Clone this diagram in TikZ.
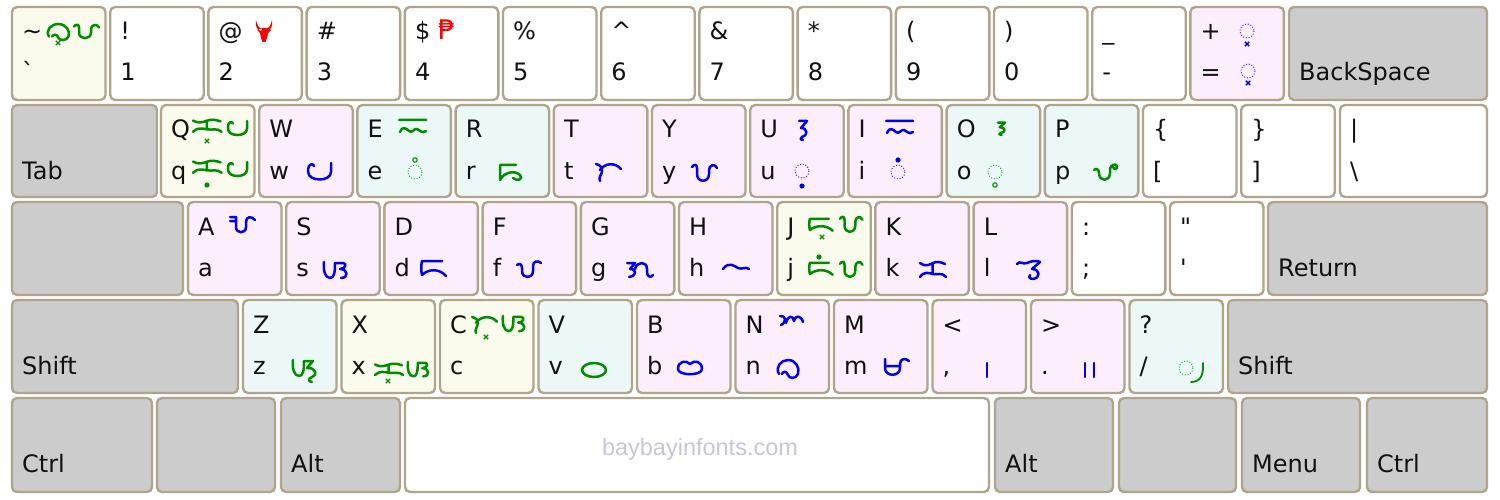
\documentclass[tikz,border=0pt]{standalone}
\usepackage{fontspec}
\setmainfont{DejaVu Sans}
\newfontfamily\keyfont{DejaVu Sans}
\newfontfamily\wmfont{Liberation Sans}
\usetikzlibrary{calc}
\definecolor{kborder}{RGB}{178,164,138}
\definecolor{kgray}{RGB}{204,204,204}
\definecolor{kpink}{RGB}{252,238,252}
\definecolor{kcyan}{RGB}{236,248,248}
\definecolor{kcream}{RGB}{250,250,237}
\definecolor{gg}{RGB}{0,140,0}
\definecolor{gb}{RGB}{0,0,235}
\definecolor{gr}{RGB}{255,0,0}
\definecolor{wm}{RGB}{200,196,222}
\definecolor{ktext}{RGB}{17,17,17}
\tikzset{
 keybox/.style={draw=kborder, line width=2.4pt, rounded corners=5pt, anchor=north west, inner sep=0pt, outer sep=0pt},
 lab/.style={anchor=base west, inner sep=0pt, text=ktext, font=\keyfont\fontsize{24}{27}\selectfont},
 gl/.style={line width=2.5pt, line cap=round, line join=round},
 pics/gya/.style={code={\draw[gl,#1] (0,3) .. controls (2,0) and (5,0) .. (5,4) -- (5,10) .. controls (5,19) and (17,19) .. (17,10) -- (17,6) .. controls (17,1) and (23,-1) .. (25,4);}},
 pics/gwa/.style={code={\draw[gl,#1] (6,3) .. controls (5,0) and (1,1) .. (1,6) -- (1,9) .. controls (1,19) and (20,19) .. (20,9) -- (20,0);}},
 pics/gna/.style={code={\draw[gl,#1] (4,14) .. controls (0,7) and (6,0) .. (13,0) .. controls (21,0) and (25,8) .. (23,14) .. controls (21,19) and (14,19) .. (13,15) .. controls (12,11) and (8,11) .. (7,14);}},
 pics/gka/.style={code={\draw[gl,#1] (0,2) .. controls (5,6) and (9,4) .. (13,2) .. controls (17,0) and (21,1) .. (25,3) (12.5,3) -- (12.5,12) (0,16) .. controls (4,10) and (9,12) .. (13,13) .. controls (18,14) and (22,11) .. (26,16);}},
 pics/gta/.style={code={\draw[gl,#1] (4,7) .. controls (9,0) and (19,-1) .. (25,6) (0,1) .. controls (4,2) and (6,4) .. (6,8) .. controls (6,12) and (2,14) .. (4,18);}},
 pics/gda/.style={code={\draw[gl,#1] (22,1) -- (2,1) .. controls (1,5) and (1,11) .. (2,15) .. controls (8,9) and (19,8) .. (26,16);}},
 pics/gra/.style={code={\draw[gl,#1] (18,1) -- (2,1) -- (2,16) .. controls (6,8) and (17,6) .. (22,11) .. controls (26,15) and (19,18) .. (15,14);}},
 pics/gsa/.style={code={\draw[gl,#1] (1,1) .. controls (0,9) and (2,17) .. (7,17) .. controls (11,17) and (12,12) .. (12,2) -- (20,2) .. controls (24,2) and (23,8) .. (17,8) .. controls (25,8) and (26,17) .. (18,17);}},
 pics/gza/.style={code={\draw[gl,#1] (1,1) .. controls (0,9) and (2,17) .. (7,17) .. controls (11,17) and (12,12) .. (12,2) -- (21,2) -- (15,9) .. controls (24,8) and (26,17) .. (20,18) .. controls (16,19) and (16,23) .. (20,23);}},
 pics/gga/.style={code={\draw[gl,#1] (0,2) -- (8,2) -- (3,8) .. controls (10,8) and (10,15) .. (2,16) (8,8) .. controls (10,0) and (20,0) .. (20,8) -- (20,11) .. controls (20,16) and (24,17) .. (26,14);}},
 pics/gha/.style={code={\draw[gl,#1] (0,6) .. controls (6,-2) and (11,3) .. (15,5) .. controls (19,7) and (23,3) .. (26,6);}},
 pics/gla/.style={code={\draw[gl,#1] (0,4) .. controls (3,0) and (6,5) .. (10,3) .. controls (14,1) and (20,0) .. (23,2) -- (15,9) .. controls (23,9) and (24,18) .. (16,19) .. controls (12,19) and (11,16) .. (13,15);}},
 pics/gma/.style={code={\draw[gl,#1] (2,1) -- (2,10) .. controls (2,19) and (17,19) .. (17,10) -- (17,6) .. controls (17,0) and (23,0) .. (26,3) (2,8) -- (17,8);}},
 pics/gba/.style={code={\draw[gl,#1] (13,4) .. controls (9,0) and (1,1) .. (1,9) .. controls (1,16) and (25,16) .. (25,9) .. controls (25,1) and (17,0) .. (13,4) -- cycle;}},
 pics/gnga/.style={code={\draw[gl,#1] (1,1) .. controls (7,0) and (8,7) .. (2,10) (7,8) .. controls (9,0) and (14,0) .. (15,6) .. controls (16,0) and (22,0) .. (24,7);}},
 pics/gaa/.style={code={\draw[gl,#1] (0,1) -- (6,1) (0,5) -- (6,5) (6,1) -- (6,11) .. controls (6,18) and (16,18) .. (16,11) -- (16,6) .. controls (16,0) and (22,0) .. (25,4);}},
 pics/gpa/.style={code={\draw[gl,#1] (0,7) .. controls (2,5) and (5,6) .. (5,10) .. controls (5,19) and (16,19) .. (16,10) -- (16,6) .. controls (16,2) and (22,0) .. (23,3) .. controls (24,6) and (20,7) .. (19,4);}},
 pics/gfa/.style={code={\draw[gl,#1] (0,5) .. controls (2,3) and (5,4) .. (5,8) -- (5,11) .. controls (5,19) and (16,19) .. (16,11) -- (16,6) .. controls (16,1) and (21,0) .. (24,3);}},
 pics/guu/.style={code={\draw[gl,#1] (1,1) -- (9,1) -- (3,8) .. controls (10,8) and (10,16) .. (4,17) .. controls (2,17.5) and (2,20) .. (5,20);}},
 pics/gii/.style={code={\draw[gl,#1] (0,0) -- (27,0) (1,12) .. controls (3,6) and (7,8) .. (10,11) .. controls (13,14) and (15,8) .. (18,9) .. controls (21,10) and (23,14) .. (27,11);}},
 pics/dcirc/.style={code={\draw[#1, line width=0.9pt, dash pattern=on 0.9pt off 1.9pt] (0,0) circle[radius=7];}},
 pics/vcross/.style={code={\draw[#1, line width=1.4pt] (-2.2,-2.2) -- (2.2,2.2) (-2.2,2.2) -- (2.2,-2.2);}},
 pics/kdot/.style={code={\fill[#1] (0,0) circle[radius=2.6];}},
 pics/kring/.style={code={\draw[#1, line width=1.1pt] (0,0) circle[radius=2.2];}},
 pics/carabao/.style={code={\fill[#1] (1,0) .. controls (0,6) and (2,10) .. (6,11) -- (7,9) .. controls (4,8) and (2,5) .. (1,0) -- cycle (17,0) .. controls (18,6) and (16,10) .. (12,11) -- (11,9) .. controls (14,8) and (16,5) .. (17,0) -- cycle (5,9) .. controls (7,7.5) and (11,7.5) .. (13,9) -- (16,10) -- (13,13) -- (12,18) -- (10.5,22) -- (7.5,22) -- (6,18) -- (5,13) -- (2,10) -- cycle;}}
}
% name, x, top, width, height, fill, upper, lower
\newcommand\kkey[8]{%
  \node[keybox, fill=#6, minimum width=#4pt, minimum height=#5pt] (#1) at (#2,#3) {};
  \node[lab] (#1u) at ($(#2,#3)+(10,33)$) {#7};
  \node[lab] (#1l) at ($(#2,#3)+(10,74)$) {#8};}
\begin{document}
\begin{tikzpicture}[x=1pt,y=-1pt]
\useasboundingbox[fill=white] (0,0) rectangle (1500,500);
% row 1
\kkey{kgrave}{12}{7}{93.5}{93}{kcream}{\textasciitilde}{\symbol{96}}
\kkey{kone}{110.2}{7}{93.5}{93}{white}{!}{1}
\kkey{ktwo}{208.4}{7}{93.5}{93}{white}{@}{2}
\kkey{kthree}{306.6}{7}{93.5}{93}{white}{\#}{3}
\kkey{kfour}{404.8}{7}{93.5}{93}{white}{\$}{4}
\kkey{kfive}{503}{7}{93.5}{93}{white}{\%}{5}
\kkey{ksix}{601.2}{7}{93.5}{93}{white}{\textasciicircum}{6}
\kkey{kseven}{699.4}{7}{93.5}{93}{white}{\&}{7}
\kkey{keight}{797.6}{7}{93.5}{93}{white}{*}{8}
\kkey{knine}{895.8}{7}{93.5}{93}{white}{(}{9}
\kkey{kzero}{994}{7}{93.5}{93}{white}{)}{0}
\kkey{kminus}{1092.2}{7}{93.5}{93}{white}{\_}{-}
\kkey{kequal}{1190.4}{7}{93.5}{93}{kpink}{+}{=}
\kkey{kbs}{1289}{7}{198}{93}{kgray}{}{BackSpace}
% row 2
\kkey{ktab}{12}{105}{145}{92}{kgray}{}{Tab}
\kkey{kq}{161}{105}{93.5}{92}{kcream}{Q}{q}
\kkey{kw}{259.2}{105}{93.5}{92}{kpink}{W}{w}
\kkey{ke}{357.4}{105}{93.5}{92}{kcyan}{E}{e}
\kkey{kr}{455.6}{105}{93.5}{92}{kcyan}{R}{r}
\kkey{kt}{553.8}{105}{93.5}{92}{kpink}{T}{t}
\kkey{ky}{652}{105}{93.5}{92}{kpink}{Y}{y}
\kkey{ku}{750.2}{105}{93.5}{92}{kpink}{U}{u}
\kkey{ki}{848.4}{105}{93.5}{92}{kpink}{I}{i}
\kkey{ko}{946.6}{105}{93.5}{92}{kcyan}{O}{o}
\kkey{kp}{1044.8}{105}{93.5}{92}{kcyan}{P}{p}
\kkey{klb}{1143}{105}{93.5}{92}{white}{\{}{[}
\kkey{krb}{1241.2}{105}{93.5}{92}{white}{\}}{]}
\kkey{kbsl}{1340}{105}{147}{92}{white}{|}{\textbackslash}
% row 3
\kkey{kcaps}{12}{202}{171}{93}{kgray}{}{}
\kkey{ka}{188}{202}{93.5}{93}{kpink}{A}{a}
\kkey{ks}{286.2}{202}{93.5}{93}{kpink}{S}{s}
\kkey{kd}{384.4}{202}{93.5}{93}{kpink}{D}{d}
\kkey{kf}{482.6}{202}{93.5}{93}{kpink}{F}{f}
\kkey{kg}{580.8}{202}{93.5}{93}{kpink}{G}{g}
\kkey{kh}{679}{202}{93.5}{93}{kpink}{H}{h}
\kkey{kj}{777.2}{202}{93.5}{93}{kcream}{J}{j}
\kkey{kk}{875.4}{202}{93.5}{93}{kpink}{K}{k}
\kkey{kl}{973.6}{202}{93.5}{93}{kpink}{L}{l}
\kkey{ksc}{1071.8}{202}{93.5}{93}{white}{:}{;}
\kkey{kqt}{1170}{202}{93.5}{93}{white}{\symbol{34}}{\symbol{39}}
\kkey{kret}{1268}{202}{219}{93}{kgray}{}{Return}
% row 4
\kkey{klsh}{12}{300}{226}{93}{kgray}{}{Shift}
\kkey{kz}{243}{300}{93.5}{93}{kcyan}{Z}{z}
\kkey{kx}{341.5}{300}{93.5}{93}{kcream}{X}{x}
\kkey{kc}{440}{300}{93.5}{93}{kcream}{C}{c}
\kkey{kv}{538.5}{300}{93.5}{93}{kcyan}{V}{v}
\kkey{kb}{637}{300}{93.5}{93}{kpink}{B}{b}
\kkey{kn}{735.5}{300}{93.5}{93}{kpink}{N}{n}
\kkey{km}{834}{300}{93.5}{93}{kpink}{M}{m}
\kkey{kcomma}{932.5}{300}{93.5}{93}{kpink}{<}{,}
\kkey{kdot}{1031}{300}{93.5}{93}{kpink}{>}{.}
\kkey{kslash}{1129.5}{300}{93.5}{93}{kcyan}{?}{/}
\kkey{krsh}{1228}{300}{259}{93}{kgray}{}{Shift}
% row 5
\kkey{klctrl}{12}{398}{140}{94}{kgray}{}{Ctrl}
\kkey{klwin}{157}{398}{118}{94}{kgray}{}{}
\kkey{klalt}{281}{398}{119}{94}{kgray}{}{Alt}
\kkey{kspace}{405}{398}{584}{94}{white}{}{}
\kkey{kralt}{995}{398}{118}{94}{kgray}{}{Alt}
\kkey{krwin}{1119}{398}{117}{94}{kgray}{}{}
\kkey{kmenu}{1242}{398}{118}{94}{kgray}{}{Menu}
\kkey{krctrl}{1367}{398}{120}{94}{kgray}{}{Ctrl}
\node[font=\wmfont\fontsize{23.5}{26}\selectfont, text=wm, anchor=base, inner sep=0pt] (wmark) at (700,455) {baybayinfonts.com};
% glyphs row 1
\pic[xscale=1.02,yscale=.9] at (45,24) {gna=gg};
\pic at (58,43) {vcross=gg};
\pic[yscale=.85] at (74,24) {gya=gg};
\pic at (255,20) {carabao=gr};
\node[anchor=base west, inner sep=0pt, text=gr, font=\keyfont\fontsize{27}{30}\selectfont] (peso) at (438,40) {₱};
\pic at (1247,31) {dcirc=gb};
\pic at (1247,44) {vcross=gb};
\pic at (1248,71) {dcirc=gb};
\pic at (1248,83) {vcross=gb};
% row 2
\pic[xscale=1.1,yscale=.8] at (193,119) {gka=gg};
\pic at (207,141) {vcross=gg};
\pic[yscale=.85] at (227,121) {gwa=gg};
\pic[xscale=1.1,yscale=.8] at (193,160) {gka=gg};
\pic at (207,185) {kdot=gg};
\pic[yscale=.85] at (227,162) {gwa=gg};
\pic[xscale=1.2] at (307,163) {gwa=gb};
\pic at (399,120) {gii=gg};
\pic at (415,172) {dcirc=gg};
\pic at (415,160) {kring=gg};
\pic at (498,164) {gra=gg};
\pic at (596,163) {gta=gb};
\pic at (692,164) {gya=gb};
\pic at (798,120) {guu=gb};
\pic at (802,171) {dcirc=gb};
\pic at (802,186) {kdot=gb};
\pic at (886,121) {gii=gb};
\pic at (898,160) {kdot=gb};
\pic at (898,172) {dcirc=gb};
\pic[xscale=.9,yscale=.65] at (997,122) {guu=gg};
\pic at (995,172) {dcirc=gg};
\pic at (995,185) {kring=gg};
\pic at (1094,163) {gpa=gg};
% row 3
\pic at (230,216) {gaa=gb};
\pic at (323,261) {gsa=gb};
\pic at (420,260) {gda=gb};
\pic at (517,260) {gfa=gb};
\pic at (627,261) {gga=gb};
\pic at (723,263) {gha=gb};
\pic[xscale=.95,yscale=.8] at (808,218) {gda=gg};
\pic at (822,237) {vcross=gg};
\pic[xscale=.9,yscale=.95] at (840,216) {gya=gg};
\pic at (819,257) {kdot=gg};
\pic[xscale=.95,yscale=.8] at (808,262) {gda=gg};
\pic[xscale=.9,yscale=.95] at (840,261) {gya=gg};
\pic at (920,261) {gka=gb};
\pic at (1017,260) {gla=gb};
% row 4
\pic at (292,359) {gza=gg};
\pic[xscale=1.08,yscale=.75] at (375,363) {gka=gg};
\pic at (388,381) {vcross=gg};
\pic[xscale=.9,yscale=.9] at (407,361) {gsa=gg};
\pic[yscale=.95] at (472,316) {gta=gg};
\pic at (486,337) {vcross=gg};
\pic[xscale=.95,yscale=.95] at (502,315) {gsa=gg};
\draw[gl,gg] (594,370) ellipse[x radius=12, y radius=7];
\pic at (677,360) {gba=gb};
\pic at (779,315) {gnga=gb};
\pic at (775,360) {gna=gb};
\pic at (883,358) {gma=gb};
\draw[gl,gb] (987,363) -- (987,377);
\draw[gl,gb] (1085,363) -- (1085,377) (1094,363) -- (1094,377);
\pic at (1186,368) {dcirc=gg};
\draw[gl,gg,line width=1.8pt] (1203,363) .. controls (1204,377) and (1199,382) .. (1191,382);
\end{tikzpicture}
\end{document}
